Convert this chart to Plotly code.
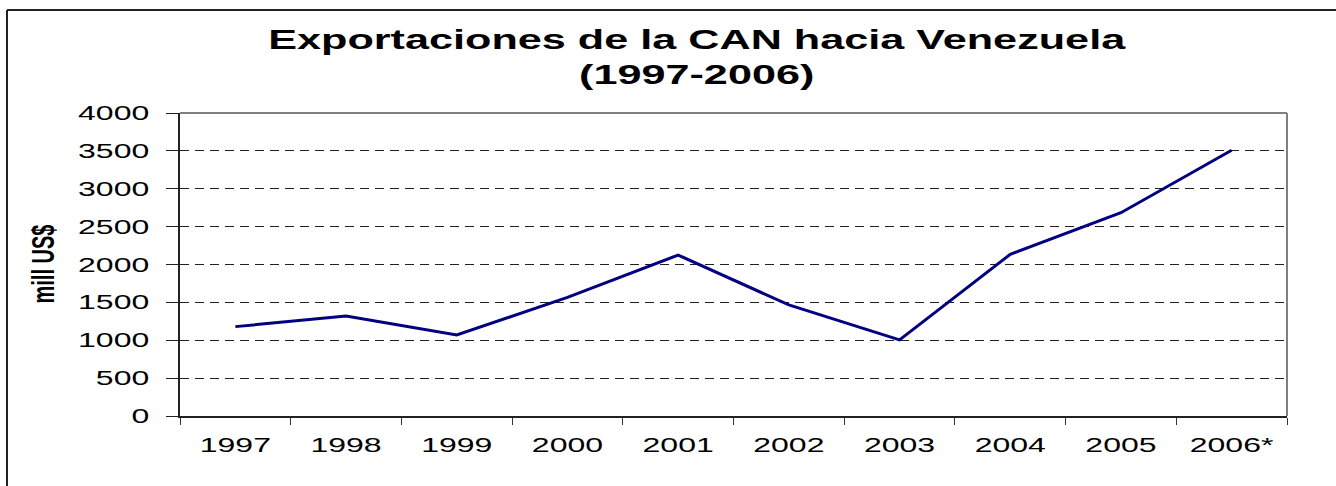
import plotly.graph_objects as go

years = ["1997", "1998", "1999", "2000", "2001", "2002", "2003", "2004", "2005", "2006*"]
exports = [1180, 1320, 1070, 1565, 2125, 1466, 1005, 2134, 2683, 3509]
y_ticks = [0, 500, 1000, 1500, 2000, 2500, 3000, 3500, 4000]

title_text = "<b>Exportaciones de la CAN hacia Venezuela<br>(1997-2006)</b>"
y_title = "<b>mill US$</b>"

W, H = 1336, 486
L, R, T, B = 180, 49, 113, 70
pw, ph = W - L - R, H - T - B

def px_x(p):
    return (p - L) / pw

def px_y(p):
    return (H - B - p) / ph

FONT = "Liberation Sans, Arial, sans-serif"

fig = go.Figure()
fig.add_trace(go.Scatter(
    x=years, y=exports, mode="lines",
    line=dict(color="#000080", width=3),
    showlegend=False, hoverinfo="x+y",
))

fig.update_layout(
    width=W, height=H,
    margin=dict(l=L, r=R, t=T, b=B, autoexpand=False),
    paper_bgcolor="white", plot_bgcolor="white",
    font=dict(family=FONT, color="black", size=20),
    title=dict(
        text=title_text, x=697 / W, xanchor="center",
        y=1 - 49 / H, yanchor="top", yref="container",
        font=dict(family=FONT, size=27, color="black"),
    ),
    xaxis=dict(
        type="category", range=[-0.5, len(years) - 0.5],
        tickson="boundaries", ticks="outside", ticklen=7,
        tickcolor="#333", showline=True, linecolor="#222", linewidth=1.5,
        showgrid=False, ticklabelstandoff=10, automargin=False,
        tickfont=dict(family=FONT, size=20),
    ),
    yaxis=dict(
        range=[0, 4000], tickvals=y_ticks, ticks="outside", ticklen=12,
        tickcolor="#222", showline=True, linecolor="#222", linewidth=1.5,
        showgrid=True, gridcolor="#222", gridwidth=1, griddash="9px,6px",
        zeroline=False, ticklabelstandoff=13, automargin=False,
        tickfont=dict(family=FONT, size=20),
    ),
    annotations=[dict(
        text=y_title, xref="paper", yref="paper",
        x=px_x(42), y=0.5, xanchor="center", yanchor="middle",
        textangle=-90, showarrow=False,
        font=dict(family=FONT, size=20, color="black"),
    )],
    shapes=[
        dict(type="line", xref="paper", yref="paper", x0=0, x1=1, y0=1, y1=1,
             line=dict(color="#808080", width=2), layer="above"),
        dict(type="line", xref="paper", yref="paper", x0=1, x1=1, y0=0, y1=1,
             line=dict(color="#808080", width=2), layer="above"),
        dict(type="line", xref="paper", yref="paper", x0=px_x(7), x1=px_x(1345),
             y0=px_y(10), y1=px_y(10), line=dict(color="#222", width=2)),
        dict(type="line", xref="paper", yref="paper", x0=px_x(7), x1=px_x(7),
             y0=px_y(10), y1=px_y(495), line=dict(color="#222", width=2)),
    ],
)

# The reference text is rendered horizontally widened; reproduce that with an SVG scale.
post = """
document.body.style.margin = '0';
document.body.style.overflow = 'hidden';
var S = 1.6;
function widen(sel, mode) {
  document.querySelectorAll(sel).forEach(function (t) {
    var bb = t.getBBox();
    var tr = t.getAttribute('transform') || '';
    if (mode === 'vert') {
      var cy = bb.y + bb.height / 2;
      t.setAttribute('transform', tr + ' translate(0,' + cy + ') scale(1,' + S + ') translate(0,' + (-cy) + ')');
      return;
    }
    var cx = mode === 'end' ? bb.x + bb.width : bb.x + bb.width / 2;
    t.setAttribute('transform', tr + ' translate(' + cx + ',0) scale(' + S + ',1) translate(' + (-cx) + ',0)');
  });
}
widen('.gtitle', 'middle');
widen('.xtick text', 'middle');
widen('.ytick text', 'end');
widen('.annotation-text', 'vert');
"""

fig.write_html("out.html", post_script=post, config={"displayModeBar": False})
